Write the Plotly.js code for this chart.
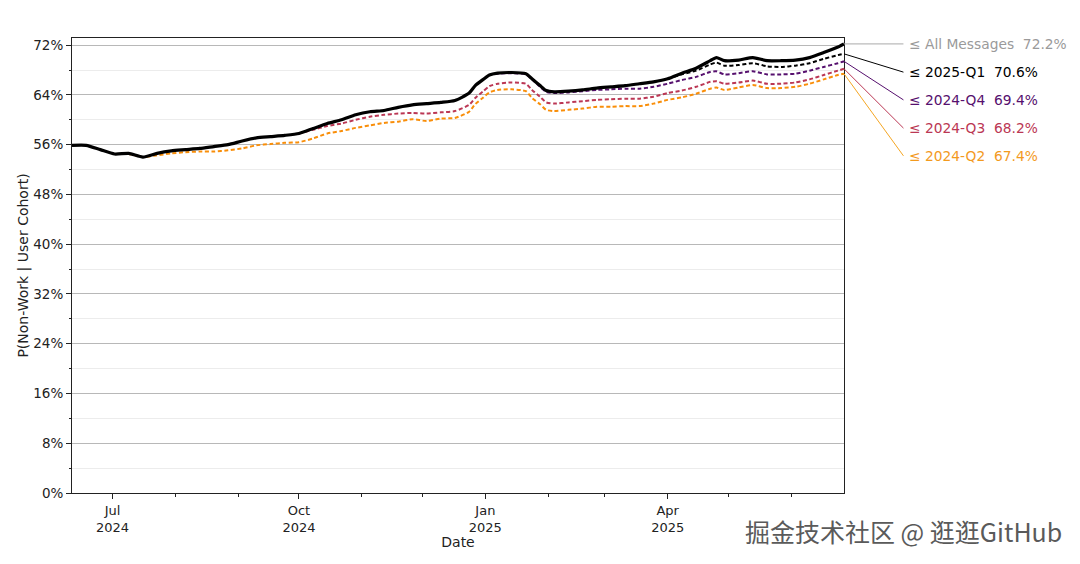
<!DOCTYPE html>
<html>
<head>
<meta charset="utf-8">
<script src="https://cdn.plot.ly/plotly-3.0.1.min.js"></script>
<style>html,body{margin:0;padding:0;background:#fff;}#chart{width:1080px;height:564px;}</style>
</head>
<body>
<div id="chart"></div>
<script>
// ---- data ----
const dates = ['2024-06-11','2024-06-18','2024-06-25','2024-07-02','2024-07-09','2024-07-16','2024-07-23','2024-07-30','2024-08-06','2024-08-13','2024-08-20','2024-08-27','2024-09-03','2024-09-10','2024-09-17','2024-09-24','2024-10-01','2024-10-08','2024-10-15','2024-10-22','2024-10-29','2024-11-05','2024-11-12','2024-11-19','2024-11-26','2024-12-03','2024-12-10','2024-12-17','2024-12-24','2024-12-27','2024-12-31','2025-01-03','2025-01-07','2025-01-14','2025-01-21','2025-01-24','2025-01-28','2025-01-31','2025-02-04','2025-02-11','2025-02-18','2025-02-25','2025-03-04','2025-03-11','2025-03-18','2025-03-25','2025-04-01','2025-04-08','2025-04-15','2025-04-22','2025-04-25','2025-04-29','2025-05-06','2025-05-13','2025-05-20','2025-05-27','2025-06-03','2025-06-10','2025-06-17','2025-06-24','2025-06-27'];

const allMessages = [55.9,55.9,55.2,54.5,54.6,54.0,54.6,55.0,55.2,55.4,55.7,56.0,56.6,57.1,57.3,57.5,57.8,58.6,59.4,60.0,60.8,61.3,61.5,62.0,62.4,62.6,62.8,63.1,64.3,65.5,66.5,67.2,67.5,67.6,67.4,66.6,65.5,64.7,64.5,64.6,64.8,65.1,65.3,65.5,65.8,66.1,66.6,67.5,68.3,69.5,70.0,69.5,69.6,70.0,69.5,69.5,69.6,70.0,70.8,71.7,72.2];

const cohort2024Q2 = [null,null,null,54.5,54.5,54.0,54.3,54.6,54.8,54.9,54.9,55.1,55.4,55.9,56.1,56.3,56.4,57.0,57.8,58.2,58.7,59.1,59.5,59.7,60.1,59.8,60.2,60.3,61.3,62.5,63.6,64.4,64.8,64.9,64.6,63.5,62.5,61.6,61.4,61.6,61.8,62.1,62.1,62.2,62.2,62.6,63.2,63.6,64.2,65.0,65.2,64.8,65.2,65.6,65.1,65.1,65.3,65.8,66.5,67.2,67.4];

const cohort2024Q3 = [null,null,null,null,null,null,null,null,null,null,null,null,null,null,null,null,57.8,58.4,59.0,59.4,60.0,60.5,60.8,61.0,61.1,61.0,61.2,61.4,62.4,63.5,64.6,65.4,65.8,66.0,65.8,64.8,63.7,62.8,62.6,62.8,63.0,63.2,63.3,63.4,63.4,63.7,64.3,64.7,65.3,66.1,66.2,65.8,66.0,66.3,65.8,65.8,66.0,66.5,67.2,67.9,68.2];

const cohort2024Q4 = [null,null,null,null,null,null,null,null,null,null,null,null,null,null,null,null,null,null,null,null,null,null,null,null,null,null,null,null,null,null,66.5,67.2,67.4,67.5,67.3,66.5,65.3,64.5,64.3,64.4,64.6,64.8,64.9,65.0,65.0,65.3,65.8,66.4,66.9,67.7,67.8,67.3,67.5,67.8,67.3,67.3,67.4,67.9,68.5,69.1,69.4];

const cohort2025Q1 = [null,null,null,null,null,null,null,null,null,null,null,null,null,null,null,null,null,null,null,null,null,null,null,null,null,null,null,null,null,null,null,null,null,null,null,null,null,null,null,null,null,null,null,null,null,null,66.6,67.3,67.9,68.9,69.2,68.7,68.8,69.1,68.6,68.5,68.7,69.1,69.8,70.4,70.6];

const seriesNames = ['All Messages','2025-Q1','2024-Q4','2024-Q3','2024-Q2'];
const finalValues = [72.2,70.6,69.4,68.2,67.4];

const xTickVals = ['2024-07-01','2024-10-01','2025-01-01','2025-04-01'];
const xTickText = ['Jul<br>2024','Oct<br>2024','Jan<br>2025','Apr<br>2025'];
const xMinorVals = ['2024-07-01','2024-08-01','2024-09-01','2024-10-01','2024-11-01','2024-12-01','2025-01-01','2025-02-01','2025-03-01','2025-04-01','2025-05-01','2025-06-01'];

// ---- style ----
const FONT = 'DejaVu Sans, sans-serif';
const colors = {all:'#000000', q1:'#000000', q4:'#56106E', q3:'#BB3754', q2:'#F98E09'};
const labelColors = ['#9a9a9a', '#000000', '#56106E', '#BB3754', '#F39A1E'];
const connColors = ['#aaaaaa', '#000000', '#56106E', '#BB3754', '#F5A623'];
const yRange = [0, 73.15];
const xRange = ['2024-06-11', '2025-06-27'];

function dashed(y, c, name){
  return {x: dates, y: y, mode:'lines', name: name, connectgaps:false,
    line:{color:c, width:2, dash:'4px,2.5px', shape:'spline', smoothing:0.6}, hoverinfo:'skip'};
}

const traces = [
  dashed(cohort2024Q2, colors.q2, '2024-Q2'),
  dashed(cohort2024Q3, colors.q3, '2024-Q3'),
  dashed(cohort2024Q4, colors.q4, '2024-Q4'),
  dashed(cohort2025Q1, colors.q1, '2025-Q1'),
  {x: dates, y: allMessages, mode:'lines', name:'All Messages',
   line:{color:colors.all, width:3.2, shape:'spline', smoothing:0.6}, hoverinfo:'skip'}
];

// label positions (paper fraction) for right-side labels
const labelFrac = [0.987, 0.925, 0.864, 0.802, 0.741];
const labelX = 1.082;
const connX = 1.077;
const annotations = [];
const shapes = [];
for (let i = 0; i < seriesNames.length; i++) {
  annotations.push({
    xref:'paper', yref:'paper', x: labelX, y: labelFrac[i], xanchor:'left', yanchor:'middle',
    text: '\u2264 ' + seriesNames[i] + '\u00a0\u00a0' + finalValues[i].toFixed(1) + '%',
    showarrow:false, font:{family:FONT, size:13.8, color:labelColors[i]}
  });
  const yLabelData = yRange[0] + labelFrac[i]*(yRange[1]-yRange[0]);
  shapes.push({type:'line', xref:'paper', yref:'y', x0:1, y0: finalValues[i], x1: connX, y1: yLabelData,
    line:{color:connColors[i], width:1}, layer:'above'});
}
// watermark
annotations.push({xref:'paper', yref:'paper', x:1.285, y:-0.083, xanchor:'right', yanchor:'middle',
  text:'掘金技术社区 @ 逛逛GitHub', showarrow:false,
  font:{family:'Noto Sans CJK SC, sans-serif', size:25, color:'#5a5a5a'}});

const layout = {
  width:1080, height:564,
  margin:{l:72, r:236, t:38, b:71},
  paper_bgcolor:'#ffffff', plot_bgcolor:'#ffffff',
  showlegend:false,
  font:{family:FONT, size:13, color:'#222'},
  xaxis:{
    type:'date', range:xRange,
    tickmode:'array', tickvals:xTickVals, ticktext:xTickText,
    ticks:'outside', ticklen:5, tickwidth:1, tickcolor:'#222',
    showgrid:false, zeroline:false,
    showline:true, linecolor:'#222', linewidth:1, mirror:true,
    tickfont:{family:FONT, size:13, color:'#222'},
    minor:{tickmode:'array', tickvals:xMinorVals, ticks:'outside', ticklen:3, tickcolor:'#222', showgrid:false},
    title:{text:'Date', font:{family:FONT, size:14, color:'#222'}, standoff:2}
  },
  yaxis:{
    range:yRange, tickmode:'linear', tick0:0, dtick:8, ticksuffix:'%',
    ticks:'outside', ticklen:5, tickwidth:1, tickcolor:'#222',
    showgrid:true, gridcolor:'#b8b8b8', gridwidth:1, zeroline:false,
    showline:true, linecolor:'#222', linewidth:1, mirror:true,
    tickfont:{family:FONT, size:13.5, color:'#222'},
    minor:{tickmode:'linear', tick0:0, dtick:4, ticks:'outside', ticklen:2.5, tickcolor:'#222', showgrid:true, gridcolor:'#ececec', gridwidth:1},
    title:{text:'P(Non-Work | User Cohort)', font:{family:FONT, size:14, color:'#222'}, standoff:1}
  },
  annotations: annotations,
  shapes: shapes
};

Plotly.newPlot('chart', traces, layout, {staticPlot:true, displayModeBar:false});
</script>
</body>
</html>
